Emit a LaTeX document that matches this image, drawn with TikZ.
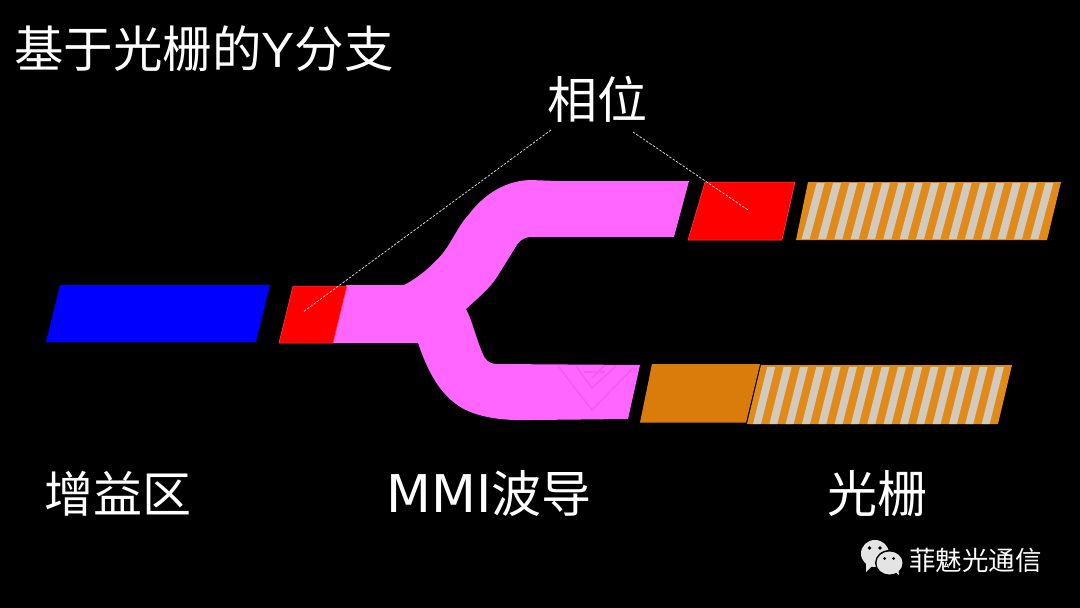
\documentclass[tikz,border=0pt]{standalone}
\usepackage{fontspec}
\setmainfont{Noto Sans CJK SC}
\newfontfamily\latinf{Liberation Sans}
\newfontfamily\latinw{DejaVu Sans}
\definecolor{wgpink}{HTML}{FF66FF}
\definecolor{wgorange}{HTML}{E08A1A}
\definecolor{blockorange}{HTML}{DA7C0C}
\definecolor{stripe}{HTML}{D2CABC}
\definecolor{wmarkc}{HTML}{F25CF0}
\definecolor{iconc}{HTML}{E4E4E4}
\tikzset{
  lbl/.style={text=white,inner sep=0pt,anchor=center},
  leader/.style={draw=white!90!black,line width=0.7pt,dash pattern=on 2.5pt off 1.5pt},
  redsec/.style={fill=red,draw=red!70!white,line width=0.5pt},
  gratbase/.style={fill=wgorange},
  gratline/.style={fill=stripe}
}
\begin{document}
\begin{tikzpicture}[x=1pt,y=-1pt]
\useasboundingbox (0,0) rectangle (1080,608);
\fill[black] (0,0) rectangle (1080,608);
% gain section
\fill[blue] (60,285) -- (270,285) -- (256,342) -- (46,342) -- cycle;
% pink waveguide
\fill[wgpink] (346,285) -- (404,285)
  .. controls (418,278) and (432,266) .. (443,253)
  .. controls (453,240) and (458,226) .. (470,213)
  .. controls (480,200) and (500,181) .. (530,180)
  -- (557,181) -- (689,181) -- (674,237) -- (557,237) -- (530,237)
  .. controls (522,238) and (518,242) .. (515,248)
  -- (497,277) .. controls (490,288) and (478,298) .. (466,309)
  .. controls (472,320) and (476,338) .. (482,352)
  .. controls (485,360) and (488,363) .. (496,364)
  -- (640,365) -- (628,419) -- (533,420)
  .. controls (505,421) and (480,418) .. (462,408)
  .. controls (440,395) and (428,372) .. (418,343)
  -- (333,343) -- cycle;
% faint watermark
\draw[wmarkc,line width=1.6pt] (558,366) -- (592,410) -- (633,368)
  (576,366) -- (592,388) -- (616,366) (584,372) -- (605,372) (604,366) -- (592,378);
% red phase sections
\path[redsec] (293,286) -- (347,286) -- (333,343) -- (279,343) -- cycle;
\path[redsec] (705,182) -- (795,182) -- (782,240) -- (688,240) -- cycle;
% upper grating
\fill[gratbase] (808,182) -- (1061,182) -- (1047,240) -- (796,240) -- cycle;
\foreach \i in {0,...,14}{
  \fill[gratline] ({816.7+16.33*\i},183) -- ({824.7+16.33*\i},183) -- ({809.7+16.33*\i},239) -- ({801.7+16.33*\i},239) -- cycle;
}
% lower grating and orange block
\fill[gratbase] (761,365) -- (1012,365) -- (998,424) -- (747,424) -- cycle;
\foreach \i in {0,...,14}{
  \fill[gratline] ({767.3+16.33*\i},367) -- ({775.3+16.33*\i},367) -- ({761+16.33*\i},424) -- ({753+16.33*\i},424) -- cycle;
}
\fill[blockorange] (652,364) -- (760,364) -- (746,422.5) -- (640,422.5) -- cycle;
% labels
\node[lbl,font=\fontsize{49.5}{49.5}\selectfont,anchor=west] (title) at (14,49) {基于光栅的{\latinf Y}分支};
\node[lbl,font=\fontsize{50}{50}\selectfont] (phase) at (597,99) {相位};
\node[lbl,font=\fontsize{49}{49}\selectfont] (gain) at (118,494) {增益区};
\node[lbl,font=\fontsize{50}{50}\selectfont] (mmi) at (489,494) {{\latinw\fontsize{52}{52}\selectfont MMI}波导};
\node[lbl,font=\fontsize{50}{50}\selectfont] (grat) at (877,494) {光栅};
% leaders
\coordinate (phaseL) at (551,130);
\coordinate (phaseR) at (633,132);
\coordinate (redA) at (303,312);
\coordinate (redB) at (748,210);
\path[leader] (phaseL) -- (redA);
\path[leader] (phaseR) -- (redB);
% WeChat mark
\fill[iconc] (875,553.5) ellipse (14 and 13.5);
\fill[iconc] (866,562) -- (866,572) -- (873,565) -- cycle;
\fill[black] (889.5,563) ellipse (14.5 and 13);
\fill[iconc] (889.5,563) ellipse (13 and 11.5);
\fill[iconc] (894,571) -- (899,575) -- (898,567) -- cycle;
\fill[black] (869.5,548) circle (1.8) (880,548) circle (1.8) (884.5,558.5) circle (1.5) (893.5,558.5) circle (1.5);
\node[lbl,font=\fontsize{26.5}{26.5}\selectfont,anchor=west] (brand) at (909,560) {菲魅光通信};
\end{tikzpicture}
\end{document}
